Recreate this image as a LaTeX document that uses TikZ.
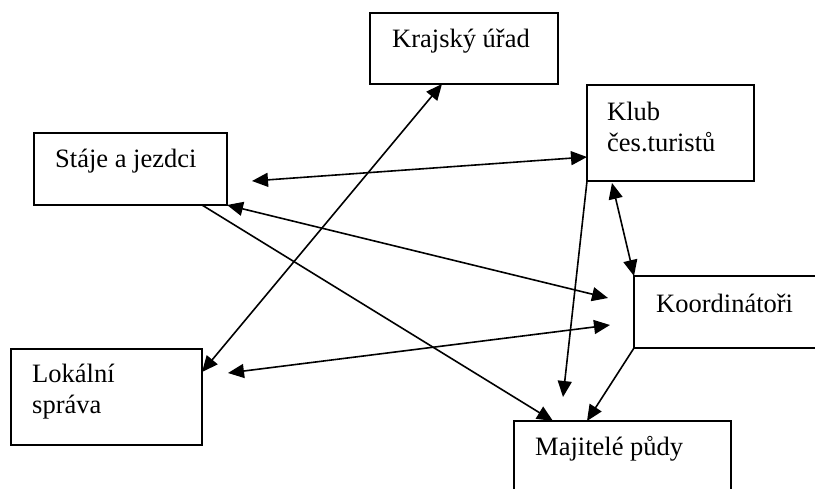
\documentclass[tikz,border=0pt]{standalone}
\usepackage{fontspec}
\setmainfont{Liberation Serif}
\usetikzlibrary{arrows.meta}

\begin{document}
\begin{tikzpicture}[x=1pt,y=-1pt,
  box/.style={draw,line width=2pt,anchor=north west,inner sep=0pt,outer sep=0pt},
  txt/.style={anchor=base west,inner sep=0pt,align=left,
    font=\fontsize{26.5}{31}\selectfont},
  link/.style={line width=1.6pt,-{Triangle[length=16pt,width=14pt]}},
  both/.style={line width=1.6pt,{Triangle[length=16pt,width=14pt]}-{Triangle[length=16pt,width=14pt]}}]

 \useasboundingbox (0,0) rectangle (815,488);
 \clip (0,0) rectangle (815,488);

 % the six boxes
 \node[box,minimum width=188pt,minimum height=71pt] (kraj) at (370,13) {};
 \node[box,minimum width=167pt,minimum height=96pt] (klub) at (587,85) {};
 \node[box,minimum width=193pt,minimum height=72pt] (staje) at (34,133) {};
 \node[box,minimum width=220pt,minimum height=72pt] (koord) at (634,276) {};
 \node[box,minimum width=191pt,minimum height=96pt] (lok) at (11,349) {};
 \node[box,minimum width=217pt,minimum height=100pt] (maj) at (514,421) {};

 % their texts (two-line nodes sit on their last line)
 \node[txt] (kraj-t) at (392,47) {Krajský úřad};
 \node[txt] (klub-t) at (607,151) {Klub\\čes.turistů};
 \node[txt] (staje-t) at (55,167) {Stáje a jezdci};
 \node[txt] (koord-t) at (656,312) {Koordinátoři};
 \node[txt] (lok-t) at (32,413) {Lokální\\správa};
 \node[txt] (maj-t) at (535,455) {Majitelé půdy};

 % free ends of the arrows
 \coordinate (staje-r) at ([xshift=25pt,yshift=24pt]staje.south east);
 \coordinate (klub-w) at ([yshift=24pt]klub.south west);
 \coordinate (koord-a) at ([xshift=-26pt,yshift=-22pt]koord.north west);
 \coordinate (koord-b) at ([xshift=-24pt,yshift=-49pt]koord.north west);
 \coordinate (staje-b) at ([xshift=-25pt]staje.south east);
 \coordinate (maj-a) at ([xshift=39pt]maj.north west);
 \coordinate (maj-b) at ([xshift=49pt,yshift=24pt]maj.north west);
 \coordinate (maj-c) at ([xshift=73pt]maj.north west);
 \coordinate (kraj-b) at ([xshift=72pt]kraj.south west);
 \coordinate (lok-e) at ([yshift=-23pt]lok.north east);
 \coordinate (lok-r) at ([xshift=26pt,yshift=-24pt]lok.north east);
 \coordinate (klub-b) at ([xshift=25pt,yshift=-2pt]klub.south west);

 \draw[both] (staje-r) -- (klub-w);
 \draw[both] (staje.south east) -- (koord-a);
 \draw[link] (staje-b) -- (maj-a);
 \draw[both] (kraj-b) -- (lok-e);
 \draw[both] (lok-r) -- (koord-b);
 \draw[link] (klub.south west) -- (maj-b);
 \draw[both] (klub-b) -- (koord.north west);
 \draw[link] (koord.south west) -- (maj-c);

\end{tikzpicture}
\end{document}
